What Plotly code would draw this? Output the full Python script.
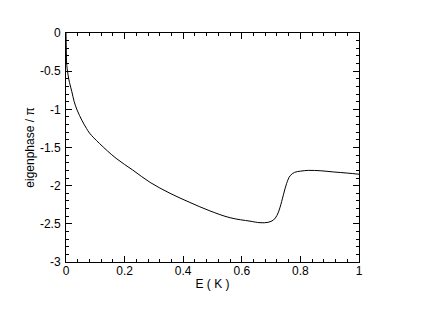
import plotly.graph_objects as go

# energy (K) and eigenphase (units of pi)
energy = [0, 0.001, 0.002, 0.004, 0.007, 0.012, 0.02, 0.028, 0.038, 0.055, 0.07, 0.08,
          0.114, 0.171, 0.228, 0.287, 0.355, 0.423, 0.491, 0.56, 0.628, 0.662, 0.69,
          0.708, 0.72, 0.73, 0.742, 0.753, 0.765, 0.78, 0.80, 0.827, 0.87, 0.912, 0.96, 1.0]
eigenphase = [0, -0.2, -0.38, -0.47, -0.55, -0.65, -0.77, -0.9, -1.01, -1.15, -1.25, -1.31,
              -1.446, -1.642, -1.796, -1.957, -2.10, -2.22, -2.33, -2.42, -2.465, -2.485, -2.48,
              -2.45, -2.39, -2.29, -2.12, -1.97, -1.87, -1.826, -1.81, -1.80, -1.805, -1.82, -1.835, -1.85]

x_ticks = [0, 0.2, 0.4, 0.6, 0.8, 1]
x_labels = ["0", "0.2", "0.4", "0.6", "0.8", "1"]
y_ticks = [0, -0.5, -1, -1.5, -2, -2.5, -3]
y_labels = ["0", "-0.5", "-1", "-1.5", "-2", "-2.5", "-3"]

FONT = "Liberation Sans, Arial"

fig = go.Figure()
fig.add_trace(go.Scatter(x=energy, y=eigenphase, mode="lines",
                         line=dict(color="black", width=1), line_shape="spline",
                         showlegend=False))

axis_style = dict(
    showline=True, linecolor="black", linewidth=1, mirror="allticks",
    ticks="inside", ticklen=6, tickwidth=1, tickcolor="black",
    showgrid=False, zeroline=False, automargin=False,
    tickfont=dict(family=FONT, size=12, color="black"),
)

fig.update_xaxes(
    range=[0, 1], tickvals=x_ticks, ticktext=x_labels, ticklabelstandoff=-2,
    minor=dict(ticks="inside", ticklen=3, dtick=0.04, tick0=0, tickcolor="black", showgrid=False),
    title=dict(text="E ( K )", standoff=2, font=dict(family=FONT, size=12, color="black")),
    **axis_style,
)
fig.update_yaxes(
    range=[-3, 0], tickvals=y_ticks, ticktext=y_labels, ticklabelstandoff=2,
    minor=dict(ticks="inside", ticklen=3, dtick=0.1, tick0=0, tickcolor="black", showgrid=False),
    title=dict(text="eigenphase / π", standoff=2, font=dict(family=FONT, size=12, color="black")),
    **axis_style,
)

# the page body has an 8px margin, so the margins are shifted to compensate
fig.update_layout(
    width=423, height=327,
    margin=dict(l=58, r=72, t=25, b=73),
    paper_bgcolor="white", plot_bgcolor="white",
    font=dict(family=FONT, size=12, color="black"),
)

fig.write_html("out.html")
